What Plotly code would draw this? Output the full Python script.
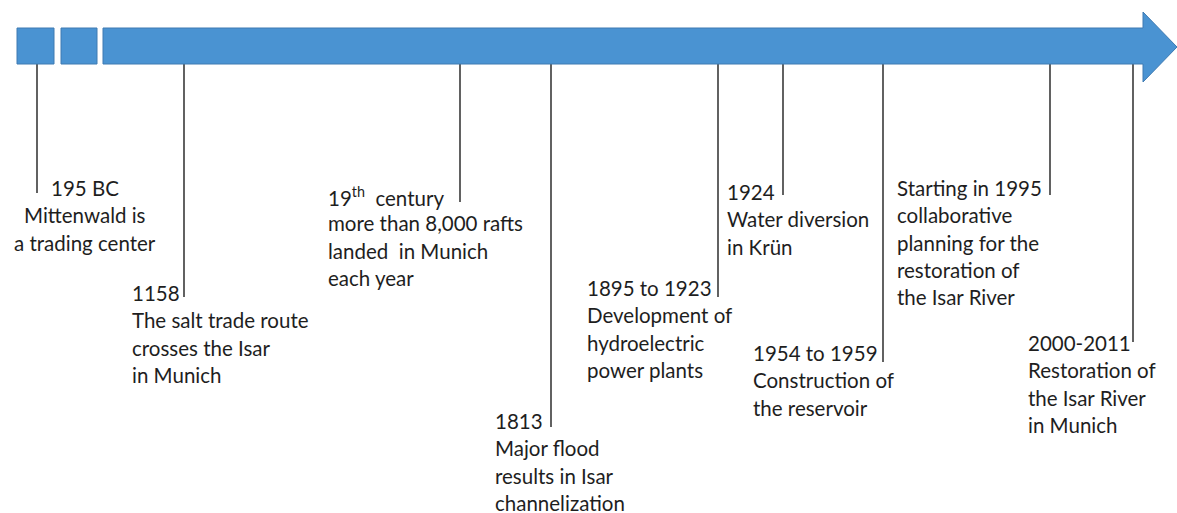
import plotly.graph_objects as go

# ---- Data: timeline events ----
event_years = ["195 BC", "1158", "19<sup>th</sup>  century", "1813", "1895 to 1923",
               "1924", "1954 to 1959", "Starting in 1995", "2000-2011"]
event_descriptions = [
    ["Mittenwald is", "a trading center"],
    ["The salt trade route", "crosses the Isar", "in Munich"],
    ["more than 8,000 rafts", "landed  in Munich", "each year"],
    ["Major flood", "results in Isar", "channelization"],
    ["Development of", "hydroelectric", "power plants"],
    ["Water diversion", "in Krün"],
    ["Construction of", "the reservoir"],
    ["collaborative", "planning for the", "restoration of", "the Isar River"],
    ["Restoration of", "the Isar River", "in Munich"],
]

# ---- Layout (positions in canvas units) ----
connector_x = [37, 184, 460, 551, 718, 783, 883, 1050, 1133]
connector_end_y = [193, 297, 202, 427, 297, 195, 362, 195, 342]
label_x = [85, 131, 327, 494, 586, 726, 752, 896, 1027]
label_top_y = [188, 293, 196, 421, 288, 192, 353, 188, 343]
label_anchor = ["center"] + ["left"] * 8
line_step = 27.3

W, H = 1177, 513
BLUE = "rgb(74,147,210)"
EDGE = "rgb(62,122,178)"
TEXT = "#1e1e1e"
FONT = "Lato, Carlito, Calibri, sans-serif"

fig = go.Figure()
fig.add_trace(go.Scatter(x=[0, W], y=[0, H], mode="markers",
                         marker=dict(opacity=0), hoverinfo="skip", showlegend=False))

# Timeline bar: two small boxes and an arrow
shapes = [
    dict(type="rect", x0=17, x1=54, y0=28, y1=64, fillcolor=BLUE, line=dict(color=EDGE, width=1)),
    dict(type="rect", x0=61, x1=97, y0=28, y1=64, fillcolor=BLUE, line=dict(color=EDGE, width=1)),
    dict(type="path", path="M103,28 L1143,28 L1143,12 L1177,47 L1143,82 L1143,64 L103,64 Z",
         fillcolor=BLUE, line=dict(color=EDGE, width=1)),
]
for cx, ey in zip(connector_x, connector_end_y):
    shapes.append(dict(type="line", x0=cx, x1=cx, y0=64, y1=ey,
                       line=dict(color="#3a3a3a", width=1.6), layer="below"))

annotations = []
for yr, desc, lx, ty, anc in zip(event_years, event_descriptions, label_x, label_top_y, label_anchor):
    lines = [yr] + desc
    for i, t in enumerate(lines):
        annotations.append(dict(x=lx, y=ty + i * line_step, text=t, showarrow=False,
                                xanchor=anc, yanchor="middle", xref="x", yref="y",
                                font=dict(family=FONT, size=20.5, color=TEXT),
                                borderpad=0))

fig.update_layout(
    width=W, height=H, margin=dict(l=0, r=0, t=0, b=0),
    paper_bgcolor="white", plot_bgcolor="white",
    xaxis=dict(range=[0, W], visible=False, fixedrange=True),
    yaxis=dict(range=[H, 0], visible=False, fixedrange=True),
    shapes=shapes, annotations=annotations, showlegend=False,
)
fig.write_html("out.html", post_script="document.body.style.margin='0';",
               config={"displayModeBar": False})
